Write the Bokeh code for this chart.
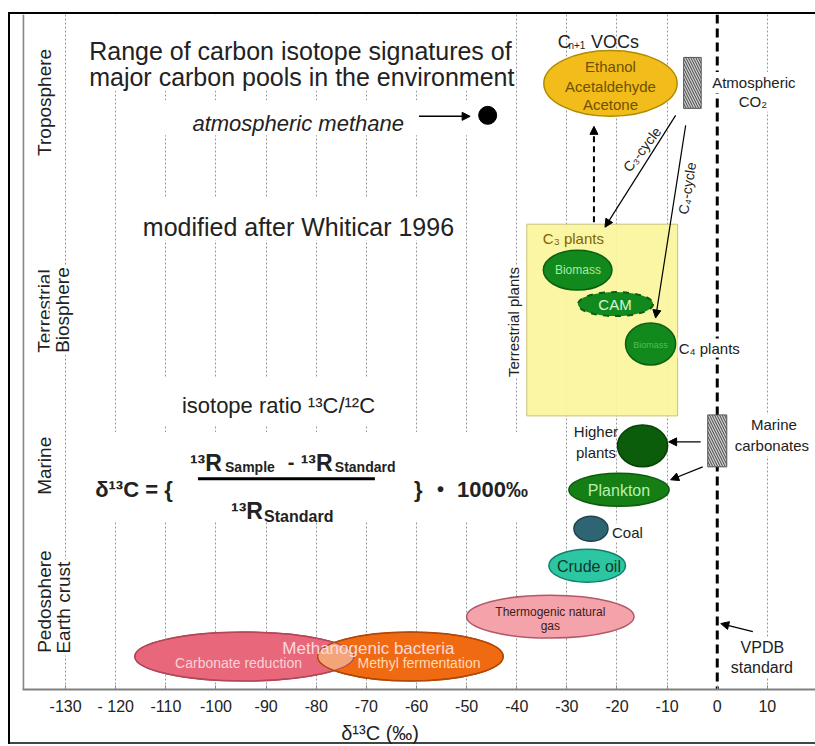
import numpy as np
from bokeh.plotting import figure
from bokeh.models import Range1d, FixedTicker, Arrow, NormalHead, Span
from bokeh.core.properties import value
from bokeh.embed import file_html
from bokeh.resources import INLINE

# ---------------- data: delta-13C values in permil (VPDB) ----------------
tick_values = [-130, -120, -110, -100, -90, -80, -70, -60, -50, -40, -30, -20, -10, 0, 10]
tick_labels = ["-130", "- 120", "-110", "-100", "-90", "-80", "-70", "-60", "-50",
               "-40", "-30", "-20", "-10", "0", "10"]

compartments = ["Troposphere", "Terrestrial\nBiosphere", "Marine", "Pedosphere\nEarth crust"]

pool_names = ["Ethanol Acetaldehyde Acetone", "C3 biomass", "CAM", "C4 biomass",
              "Higher plants", "Plankton", "Coal", "Crude oil",
              "Thermogenic natural gas", "Carbonate reduction", "Methyl fermentation"]
pool_low = [-34.6, -34.7, -27.8, -18.3, -19.9, -29.6, -28.6, -33.6, -50.0, -116.2, -79.7]
pool_high = [-8.0, -21.0, -12.8, -8.3, -9.9, -9.6, -21.8, -18.3, -16.6, -72.5, -42.7]

terrestrial_plants = [-38.0, -7.9]
atmospheric_co2 = [-6.7, -3.2]
marine_carbonates = [-1.9, 1.9]
atmospheric_methane = -45.8
vpdb_standard = 0.0

# ---------------- layout / style (vertical rows of the diagram) ----------------
pool_row = [83, 270, 304, 344, 446, 490, 529, 566, 617, 657, 657]
pool_thick = [66, 40, 24, 42, 42, 33, 25, 33, 43, 49, 49]
pool_fill = ["#F2BC1B", "#12891C", "#12891C", "#12891C", "#0B5C0B", "#157F15",
             "#2F6472", "#2CC6A2", "#F5A3AB", "#E8677A", "#F06A12"]
pool_edge = ["#B08C00", "#0B5E12", "#0B5E12", "#0B5E12", "#064006", "#0D5C0D",
             "#1E4550", "#12806A", "#B25867", "#B0485A", "#B04808"]
pool_dash = ["solid", "solid", "dashed", "solid", "solid", "solid", "solid",
             "solid", "solid", "solid", "solid"]

FONT = value("Liberation Sans")
W, H = 815, 746

frame_css = ("inset 0 12px 0 0 white, inset 8px 0 0 0 white, inset 0 -2px 0 0 white, "
             "inset 0 14px 0 0 black, inset 10px 0 0 0 black, inset 0 -4px 0 0 #444444")

p = figure(width=W, height=H, x_range=Range1d(-138.6, 19.6), y_range=Range1d(690, 14),
           output_backend="svg", toolbar_location=None, y_axis_location=None,
           min_border_left=22, min_border_right=0, min_border_top=14, min_border_bottom=56,
           background_fill_color="white", border_fill_color=None,
           styles={"box-shadow": frame_css})
p.outline_line_color = None

# x axis
ax = p.xaxis[0]
ax.ticker = FixedTicker(ticks=tick_values)
ax.major_label_overrides = {v: s for v, s in zip(tick_values, tick_labels)}
ax.major_label_text_font = "Liberation Sans"
ax.major_label_text_font_size = "16px"
ax.major_label_text_color = "#222222"
ax.major_label_standoff = 8
ax.major_tick_in = 4
ax.major_tick_out = 0
ax.major_tick_line_color = "#888888"
ax.minor_tick_line_color = None
ax.axis_line_color = "#808080"
ax.axis_line_width = 2
ax.axis_label = "δ¹³C (‰)" + "\u00a0" * 14
ax.axis_label_text_font = "Liberation Sans"
ax.axis_label_text_font_size = "20px"
ax.axis_label_text_font_style = "normal"
ax.axis_label_text_color = "#222222"
ax.axis_label_standoff = 4

p.ygrid.visible = False
p.xgrid.ticker = FixedTicker(ticks=[t for t in tick_values if t != 0])
p.xgrid.grid_line_color = "#999999"
p.xgrid.grid_line_dash = "2 2"
p.xgrid.grid_line_width = 1

# inner left border
p.add_layout(Span(location=-138.45, dimension="height", line_color="#888888", line_width=2))

# white text boxes masking the grid
p.quad(left=[-127.5, -112.9, -115.9, -111.0, -126.9],
       right=[-41.2, -48.2, -51.2, -67.1, -36.2],
       top=[14, 100, 197, 377, 432], bottom=[90, 135, 240, 425, 522],
       fill_color="white", line_color=None)

# VPDB standard line
p.segment(x0=[vpdb_standard], x1=[vpdb_standard], y0=[14], y1=[690],
          line_color="black", line_width=3, line_dash="9 5")

# terrestrial plants box
p.quad(left=[terrestrial_plants[0]], right=[terrestrial_plants[1]], top=[224], bottom=[416],
       fill_color="#FBF59C", fill_alpha=0.92, line_color="#C9C27A", line_width=1)

# hatched CO2 / carbonate bars
p.quad(left=[atmospheric_co2[0], marine_carbonates[0]], right=[atmospheric_co2[1], marine_carbonates[1]],
       top=[57, 415], bottom=[108, 467], fill_color="#CFCFCF", line_color="#555555", line_width=1,
       hatch_pattern="\\", hatch_color="#444444", hatch_scale=5, hatch_weight=1)

# pools as ellipses
for lo, hi, yy, hh, fc, lc, ds in zip(pool_low, pool_high, pool_row, pool_thick,
                                       pool_fill, pool_edge, pool_dash):
    p.ellipse(x=[(lo + hi) / 2], y=[yy], width=[hi - lo], height=[hh],
              fill_color=fc, line_color=lc, line_width=1.5 if ds == "solid" else 2,
              line_dash=ds)


# lighter overlap of carbonate reduction and methyl fermentation
def _ell(i, n=720):
    t = np.linspace(0, 2 * np.pi, n, endpoint=False)
    cx, a = (pool_low[i] + pool_high[i]) / 2, (pool_high[i] - pool_low[i]) / 2
    return cx + a * np.cos(t), pool_row[i] + pool_thick[i] / 2 * np.sin(t)


def _inside(x, y, i):
    cx, a = (pool_low[i] + pool_high[i]) / 2, (pool_high[i] - pool_low[i]) / 2
    return ((x - cx) / a) ** 2 + ((y - pool_row[i]) / (pool_thick[i] / 2)) ** 2 <= 1.0


xa, ya = _ell(9)
xb, yb = _ell(10)
ma, mb = _inside(xa, ya, 10), _inside(xb, yb, 9)
ox = np.concatenate([xa[ma], xb[mb]])
oy = np.concatenate([ya[ma], yb[mb]])
if len(ox) > 2:
    cxo, cyo = ox.mean(), oy.mean()
    order = np.argsort(np.arctan2((oy - cyo) / 25.0, (ox - cxo) / 5.0))
    p.patch(x=ox[order], y=oy[order], fill_color="#F4A479", line_color=None)
for i, col in ((9, "#B0485A"), (10, "#B04808")):
    p.ellipse(x=[(pool_low[i] + pool_high[i]) / 2], y=[pool_row[i]],
              width=[pool_high[i] - pool_low[i]], height=[pool_thick[i]],
              fill_color=None, line_color=col, line_width=1.2)

# atmospheric methane
p.scatter(x=[atmospheric_methane], y=[115], size=18, color="black")


def label(x, y, s, size, color="#222222", align="center", baseline="middle",
          angle=0.0, style="normal", bg=None, pad=2):
    kw = {}
    if bg is not None:
        kw = dict(background_fill_color=bg, padding=pad)
    p.text(x=[x], y=[y], text=[s], text_font=FONT, text_font_size=f"{size}px",
           text_color=color, text_align=align, text_baseline=baseline, angle=angle,
           text_font_style=style, **kw)


def arrow(x0, y0, x1, y1, lw=1.2, dash="solid", size=8):
    p.add_layout(Arrow(end=NormalHead(size=size, fill_color="black", line_color="black"),
                       x_start=x0, y_start=y0, x_end=x1, y_end=y1,
                       line_color="black", line_width=lw, line_dash=dash))


# compartment labels (rotated)
r90 = np.pi / 2
label(-134.3, 102, "Troposphere", 19, angle=r90, bg="white")
label(-134.3, 311, "Terrestrial", 19, angle=r90, bg="white")
label(-130.7, 310, "Biosphere", 19, angle=r90, bg="white")
label(-134.3, 466, "Marine", 19, angle=r90, bg="white")
label(-134.3, 602, "Pedosphere", 19, angle=r90, bg="white")
label(-130.4, 608, "Earth crust", 19, angle=r90, bg="white")

# headline texts
label(-125.3, 51, "Range of carbon isotope signatures of", 25, align="left", baseline="alphabetic")
label(-125.3, 77, "major carbon pools in the environment", 25, align="left", baseline="alphabetic")
label(-62.5, 123, "atmospheric methane", 22, align="right", baseline="alphabetic", style="italic")
arrow(-59.5, 116, -49.3, 116, lw=1.5)
label(-114.6, 227, "modified after Whiticar 1996", 25, align="left", baseline="alphabetic")
label(-106.8, 406, "isotope ratio ¹³C/¹²C", 22, align="left", baseline="alphabetic")

# formula
label(-124.1, 490, "δ¹³C = {", 22, align="left", baseline="alphabetic", style="bold")
label(-105.2, 463, "¹³R", 23, align="left", baseline="alphabetic", style="bold")
label(-98.2, 467, "Sample", 14, align="left", baseline="alphabetic", style="bold")
label(-85.0, 462, "-", 20, align="center", baseline="alphabetic", style="bold")
label(-83.1, 463, "¹³R", 23, align="left", baseline="alphabetic", style="bold")
label(-76.3, 467, "Standard", 14, align="left", baseline="alphabetic", style="bold")
p.segment(x0=[-103.6], x1=[-68.3], y0=[479], y1=[479], line_color="black", line_width=3)
label(-97.0, 511, "¹³R", 23, align="left", baseline="alphabetic", style="bold")
label(-90.4, 517, "Standard", 16, align="left", baseline="alphabetic", style="bold")
label(-60.5, 490, "}", 22, align="left", baseline="alphabetic", style="bold")
label(-55.2, 489, "•", 20, align="center", baseline="alphabetic", style="bold")
label(-51.9, 490, "1000‰", 22, align="left", baseline="alphabetic", style="bold")

# VOCs
label(-31.8, 42, "C", 18, align="left", baseline="alphabetic")
label(-29.7, 45, "n+1", 10, align="left", baseline="alphabetic")
label(-25.2, 42, "VOCs", 18, align="left", baseline="alphabetic")
label(-21.3, 66, "Ethanol", 15, color="#6E5200")
label(-21.3, 86, "Acetaldehyde", 15, color="#6E5200")
label(-21.3, 104, "Acetone", 15, color="#6E5200")
label(7.3, 82, "Atmospheric", 15, bg="white")
label(7.1, 101, "CO₂", 15, bg="white")

# cycles
arrow(-24.6, 222, -24.6, 126, lw=2, dash="6 4")
arrow(-8.3, 115, -22.4, 227)
arrow(-6.3, 125, -12.3, 318)
label(-15.0, 149, "C₃-cycle", 14, angle=np.deg2rad(52))
label(-6.0, 188, "C₄-cycle", 14, angle=np.deg2rad(81))

# terrestrial plants
label(-40.6, 322, "Terrestrial plants", 15, angle=r90, bg="white", pad=1)
label(-34.8, 238, "C₃ plants", 15, align="left", color="#7F6500")
label(-27.8, 270, "Biomass", 12, color="#A8EAA8")
label(-20.4, 304, "CAM", 15, color="#D6F7D6")
label(-13.3, 345, "Biomass", 9, color="#52BE52")
label(-7.9, 348, "C₄ plants", 15, align="left", bg="white", pad=1)

# marine
label(-19.8, 432, "Higher", 15, align="right")
label(-20.2, 453, "plants", 15, align="right")
label(11.3, 425, "Marine", 15, bg="white")
label(10.9, 446, "carbonates", 15, bg="white")
arrow(-3.3, 442, -9.7, 442)
arrow(-2.9, 467, -9.3, 480)
label(-19.6, 491, "Plankton", 16, color="#B8F0B0")

# pedosphere
label(-21.2, 533, "Coal", 15, align="left", bg="white", pad=1)
label(-25.6, 567, "Crude oil", 16, color="#103828")
label(-33.3, 612, "Thermogenic natural", 12, color="#3A2020")
label(-33.3, 626, "gas", 12, color="#3A2020")
label(-69.6, 649, "Methanogenic bacteria", 17, color="#FADADF")
label(-95.5, 663, "Carbonate reduction", 14, color="#F9D3D9")
label(-59.5, 663, "Methyl fermentation", 14, color="#FFD9B3")

# VPDB
arrow(7.1, 632, 0.7, 624)
label(9.0, 648, "VPDB", 16, bg="white")
label(8.9, 668, "standard", 16, bg="white")

open("out.html", "w").write(file_html(p, INLINE))
